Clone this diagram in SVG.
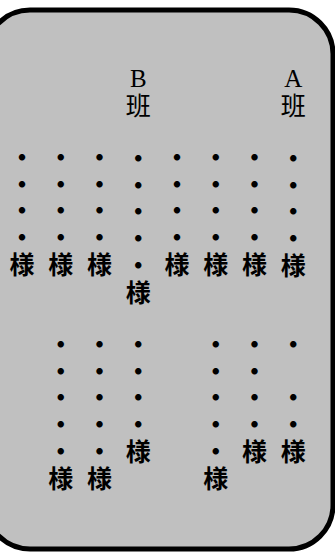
<svg xmlns="http://www.w3.org/2000/svg" width="335" height="553" viewBox="0 0 335 553">
<style>
.bg{fill:#c0c0c0;stroke:#000;stroke-width:5}
.v{font-family:"Noto Sans CJK JP","Noto Sans CJK SC",sans-serif;font-size:25px;font-weight:bold;fill:#000;writing-mode:vertical-rl;letter-spacing:1.73px}
.n{font-weight:normal}
.lat{font-family:"Liberation Serif",serif;font-size:25px;fill:#000;text-anchor:middle}
</style>
<rect class="bg" x="-14" y="10" width="347" height="539" rx="44" ry="44"/>
<g id="col1">
<text class="v" x="22" y="144.9">・・・・様</text>
</g>
<g id="col2">
<text class="v" x="60.75" y="144.9">・・・・様</text>
<text class="v" x="60.75" y="332">・・・・・様</text>
</g>
<g id="col3">
<text class="v" x="99.5" y="144.9">・・・・様</text>
<text class="v" x="99.5" y="332">・・・・・様</text>
</g>
<g id="col4">
<text class="lat" x="138.25" y="86.5" style="font-size:25px">B</text>
<text class="v" x="138.25" y="92.5"><tspan class="n">班</tspan>　・・・・・様</text>
<text class="v" x="138.25" y="332">・・・・様</text>
</g>
<g id="col5">
<text class="v" x="177" y="144.9">・・・・様</text>
</g>
<g id="col6">
<text class="v" x="215.75" y="144.9">・・・・様</text>
<text class="v" x="215.75" y="332">・・・・・様</text>
</g>
<g id="col7">
<text class="v" x="254.5" y="144.9">・・・・様</text>
<text class="v" x="254.5" y="332">・・・・様</text>
</g>
<g id="col8">
<text class="lat" x="293.25" y="86.5" style="font-size:25px">A</text>
<text class="v" x="293.25" y="92.5"><tspan class="n">班</tspan>　・・・・様</text>
<text class="v" x="293.25" y="332">・　・・様</text>
</g>
<g id="connectors"/>
</svg>
